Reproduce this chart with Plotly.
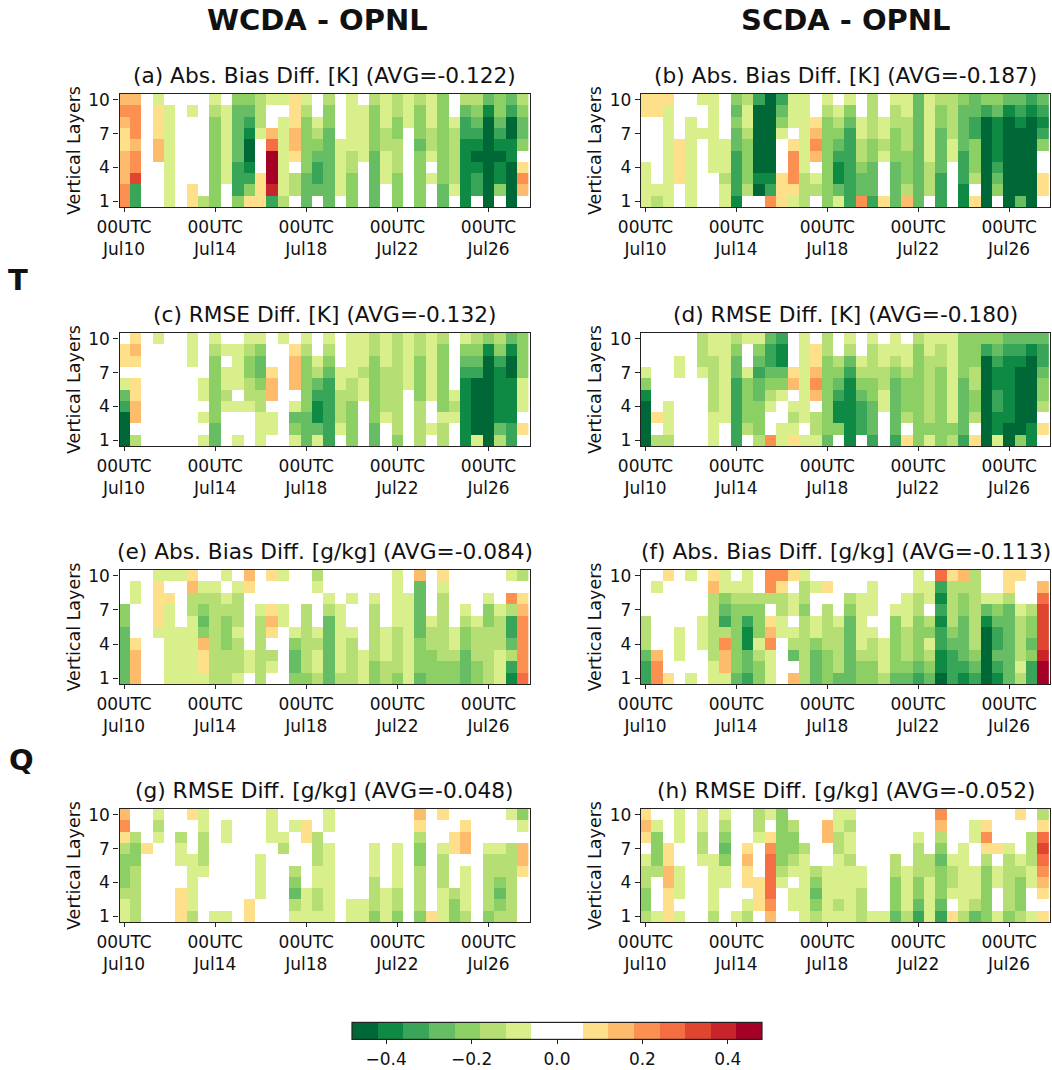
import plotly.graph_objects as go

# Values are colour-class levels: 0 = white band,
# +-k = k-th class away from the white band (each class is 0.06 wide).
# Rows run from layer 10 (first) to layer 1 (last); 36 twelve-hourly columns.
A_WCDA_T_BIAS = [
[2,2,0,-1,0,0,0,0,-1,0,-3,-3,-2,-1,-1,1,-1,0,-2,0,-1,0,-2,-1,-2,-1,-2,-1,-3,0,-2,-2,-4,-3,-4,-2],
[3,3,0,1,-1,0,-1,0,-2,-1,-4,-4,-2,0,0,1,-2,0,-3,0,-1,-1,-3,-1,-2,-1,-3,-1,-3,0,-4,-3,-6,-3,-5,-3],
[2,3,0,1,-1,0,0,0,-3,-1,-4,-5,-2,0,-1,1,-3,-1,-3,0,-1,-1,-3,-1,-3,-1,-3,-1,-3,-1,-5,-4,-7,-4,-7,-4],
[1,3,0,1,-1,0,0,0,-3,-1,-4,-6,-1,2,-1,2,-3,-2,-4,0,-1,-1,-3,-2,-3,0,-3,-2,-3,-2,-5,-5,-7,-5,-7,-4],
[1,2,0,2,-1,0,0,0,-3,-1,-4,-7,0,4,-1,2,-3,-3,-4,-1,-1,-1,-3,-2,-2,0,-4,-2,-3,-2,-6,-6,-7,-6,-6,-3],
[2,3,0,2,-1,0,0,0,-3,-1,-4,-7,0,7,-1,1,-3,-4,-4,-1,-2,-1,-4,-1,-2,0,-3,-1,-3,-2,-6,-7,-7,-7,-6,0],
[2,3,0,0,-1,0,0,0,-3,-1,-5,-6,0,7,-1,0,-3,-5,-4,-1,-2,0,-4,-1,-2,0,-3,0,-3,-2,-6,-6,-7,-6,-7,1],
[2,5,0,0,-1,0,0,0,-3,-1,-5,-5,1,7,-1,-2,-4,-5,-4,-1,-3,0,-4,-1,-3,0,-3,-1,-3,-2,-6,-5,-7,-6,-7,3],
[3,-5,0,0,-1,0,1,0,-3,0,-5,-3,1,6,-1,-2,-4,-4,-4,-1,-3,0,-4,0,-3,0,-3,0,-4,-1,-6,-5,-7,-3,-7,2],
[3,-5,0,0,-1,0,1,-2,-3,0,-3,1,1,-5,-2,0,-4,0,-4,0,-3,0,-4,0,-3,0,-3,0,-4,0,-6,0,-7,0,-7,0],
]
B_SCDA_T_BIAS = [
[1,1,1,0,0,-1,-1,0,-3,-2,-5,-7,-5,-1,-1,0,-1,0,-1,0,-2,0,-1,-1,-4,-1,-2,-2,-3,-4,-3,-3,-4,-4,-5,-4],
[1,1,-1,0,0,0,-1,0,-4,-1,-7,-7,-4,-1,-1,0,-2,-1,-3,0,-2,0,-2,-1,-4,-1,-3,-2,-4,-4,-5,-4,-6,-5,-6,-5],
[0,0,-1,0,-1,0,-1,0,-3,-1,-7,-7,-3,-1,-1,1,-3,-2,-4,-1,-2,-1,-2,-2,-4,-1,-3,-2,-4,-5,-7,-6,-7,-6,-7,-6],
[0,0,-1,0,-1,-1,-1,0,-4,-2,-7,-7,-1,0,-1,2,-3,-3,-5,-1,-2,-1,-3,-2,-4,-1,-4,-2,-4,-5,-7,-6,-7,-7,-7,-5],
[0,0,-1,1,-1,0,-1,-1,-4,-3,-7,-7,0,1,-1,3,-3,-4,-5,-2,-3,-2,-3,-2,-4,-1,-4,-1,-4,-3,-7,-6,-7,-7,-7,-3],
[0,0,-1,1,-1,0,-1,-1,-5,-3,-7,-7,0,3,-1,2,-3,-5,-5,-2,-3,-1,-3,-3,-4,-1,-4,-1,-5,-3,-7,-6,-7,-7,-7,0],
[-1,0,-1,1,-1,0,-1,-1,-5,-3,-7,-7,0,3,-1,0,-3,-6,-5,-3,-4,0,-4,-3,-4,-2,-4,0,-5,-3,-7,-5,-7,-7,-7,0],
[-1,0,-1,1,-1,0,0,-2,-5,-3,-6,-6,1,3,-2,-1,-3,-6,-5,-4,-4,0,-4,-3,-4,-2,-5,0,-5,-2,-7,-4,-7,-7,-7,1],
[-1,-1,-1,0,-1,0,0,-1,-5,-2,-7,-5,1,1,-2,-2,-3,-4,-5,-4,-4,0,-4,-2,-4,-2,-5,0,-6,0,-7,-3,-7,-7,-7,1],
[-1,-2,-1,0,-1,0,0,-1,-6,0,0,3,1,-1,-2,0,-3,-1,-5,3,-5,1,-4,2,-4,0,-5,0,-6,1,-7,0,-7,-4,-7,0],
]
C_WCDA_T_RMSE = [
[0,1,0,-1,0,0,-1,0,-1,0,0,-1,-1,0,-1,0,-1,0,-1,0,-1,-1,-2,-1,-2,-1,-2,-1,-2,0,-1,-2,-3,-2,-4,-3],
[1,2,0,0,0,0,-1,0,-2,-1,-1,-2,-3,0,0,1,-2,0,-2,0,-1,-1,-2,-1,-2,-1,-2,-1,-3,0,-3,-3,-6,-3,-6,-3],
[1,1,0,0,0,0,-1,0,-3,0,-1,-3,-4,0,0,2,-3,-1,-3,0,-1,-1,-3,-1,-2,-1,-3,-1,-3,0,-4,-4,-7,-5,-7,-3],
[0,0,0,0,0,0,0,0,-3,-1,-1,-3,-4,1,0,2,-3,-2,-4,-1,-1,-2,-3,-2,-2,-1,-3,-1,-3,0,-5,-5,-7,-6,-7,-3],
[-1,1,0,0,0,0,0,-1,-3,-1,-1,-2,-3,2,0,2,-3,-4,-5,-1,-2,-1,-3,-2,-2,-1,-3,-1,-3,0,-6,-7,-7,-6,-6,-1],
[-4,1,0,0,0,0,0,-1,-3,-2,0,-2,-2,2,0,0,-3,-5,-5,-2,-2,-1,-3,-2,-2,0,-3,-1,-3,-1,-6,-7,-7,-6,-6,-1],
[-5,2,0,0,0,0,0,0,-3,-1,-1,-1,-2,0,0,-1,-3,-6,-5,-2,-3,0,-3,-2,-2,0,-2,0,-3,-2,-6,-7,-7,-6,-6,-1],
[-7,2,0,0,0,0,0,-1,-3,0,0,0,-1,-1,0,-4,-4,-6,-5,-2,-3,0,-3,-1,-2,0,-2,0,-1,-1,-6,-7,-7,-6,-6,0],
[-7,0,0,0,0,0,0,0,-4,0,0,0,-1,-1,0,-3,-4,-4,-5,-1,-3,0,-4,0,-2,0,-2,-1,-2,0,-6,-7,-7,-4,-5,1],
[-7,-2,0,0,0,0,0,-1,-4,0,-1,0,-1,0,0,-1,-4,-1,-5,0,-3,0,-4,0,-3,0,-2,0,-2,0,-6,-1,-7,-2,-5,0],
]
D_SCDA_T_RMSE = [
[0,0,0,0,0,-2,-1,-1,-2,-1,-1,-4,-5,0,-1,0,-2,0,-1,0,-1,0,-1,0,-2,-1,-1,-1,-3,-3,-3,-3,-4,-4,-4,-4],
[0,0,0,0,0,-2,-1,-1,-3,0,-3,-5,-6,0,-1,1,-2,0,-2,0,-2,-1,-1,-1,-3,-1,-2,-1,-3,-3,-5,-4,-5,-5,-6,-5],
[0,0,0,-1,0,-2,-2,-1,-4,0,-4,-5,-6,0,-1,1,-3,-2,-4,-1,-2,-1,-2,-1,-3,-2,-2,-1,-3,-3,-7,-5,-6,-6,-7,-5],
[-1,0,0,-1,0,-1,-2,-1,-4,-1,-5,-4,-4,1,-1,2,-3,-3,-5,-2,-2,-2,-3,-2,-3,-2,-3,-1,-3,-2,-7,-6,-6,-7,-7,-4],
[-3,0,0,0,0,0,-2,-1,-5,-3,-4,-3,-3,2,-1,3,-3,-4,-6,-3,-3,-2,-4,-3,-3,-2,-3,-1,-4,-2,-7,-6,-6,-7,-7,-3],
[-6,0,0,0,0,0,-2,-1,-5,-3,-4,-2,-1,0,-1,2,-3,-5,-6,-4,-3,-1,-4,-3,-3,-2,-3,-1,-4,-3,-7,-5,-6,-7,-7,-3],
[-7,0,-1,0,0,0,-2,-1,-5,-3,-3,-1,0,-1,-1,0,-3,-6,-6,-5,-4,-1,-4,-3,-3,-2,-3,-1,-4,-3,-7,-5,-6,-7,-7,-2],
[-7,1,-1,0,0,0,-1,-1,-5,-3,-3,0,0,-2,-1,-2,-3,-6,-6,-5,-4,0,-4,-2,-3,-2,-3,-1,-4,-2,-7,-6,-6,-7,-7,0],
[-7,0,-1,0,0,0,-1,0,-5,-2,-3,0,-1,-1,0,-2,-3,-3,-6,-5,-4,0,-4,0,-3,-3,-3,-3,-4,0,-7,-6,-7,-7,-6,1],
[-7,-2,-2,0,0,0,-1,0,-5,0,-2,3,-1,1,-1,-1,-4,0,-6,0,-5,0,-5,1,-3,-1,-3,-2,-5,1,-7,-1,-7,-3,-6,0],
]
E_WCDA_Q_BIAS = [
[0,0,0,-1,-1,-1,1,0,0,-1,0,2,0,1,-1,0,0,-2,0,0,0,0,0,0,-1,0,2,0,1,0,0,0,0,0,-1,-2],
[0,-1,0,1,0,0,2,-1,-1,0,-1,1,0,0,0,0,0,-1,0,0,0,0,0,0,-1,0,-4,0,-1,0,0,0,0,0,0,0],
[0,-1,0,1,1,0,-2,-2,-2,-1,-2,0,0,0,0,0,0,0,-1,0,-1,0,-1,0,-1,-1,-4,0,-2,0,0,0,-1,0,3,1],
[-3,0,0,1,-1,0,-2,-3,-2,-2,-2,0,-1,1,-1,0,-2,0,-2,-1,0,0,-2,0,-1,-1,-4,0,-2,0,-1,0,-3,-1,-2,2],
[-3,0,0,1,-1,0,-1,-4,-2,-3,-2,0,-2,2,-1,0,-2,0,-4,-1,0,0,-2,0,-1,-1,-4,-1,-2,0,-2,-1,-3,-2,-5,3],
[-4,0,0,-1,-1,-1,-1,-3,-2,-3,-1,0,-2,1,0,-1,-2,-1,-4,-1,-1,0,-2,-1,-2,-1,-4,-2,-2,-1,-3,-2,-2,-2,-5,3],
[-4,1,0,0,-1,-1,-1,2,-2,-3,-2,0,-2,0,0,-3,-2,-2,-4,-1,-2,0,-2,-1,-2,-1,-3,-2,-2,-1,-3,-2,-2,-2,-4,3],
[-4,2,0,0,-1,-1,-1,1,-2,-2,-2,-1,-2,-2,0,-4,-2,-1,-4,-1,-2,-1,-2,-1,-2,-1,-3,-3,-2,-2,-4,-2,-2,-1,-2,3],
[-4,2,0,0,-1,-1,-1,1,-2,-2,-2,-1,-2,-1,0,-4,-2,-1,-4,-1,-2,-1,-3,-2,-2,-1,-3,-3,-3,-3,-4,-3,-2,-1,-5,3],
[-4,2,0,0,-1,-1,-1,-1,-2,-2,-1,0,-2,0,0,-3,-3,-2,-4,-2,-2,-1,-3,-2,-3,-1,-4,-3,-3,-3,-4,-3,-2,-1,-6,4],
]
F_SCDA_Q_BIAS = [
[0,0,1,0,-1,0,1,-1,0,-1,0,3,3,1,-1,0,0,0,0,0,0,0,0,0,-1,0,4,1,2,-2,0,0,1,1,0,0],
[0,-1,0,0,0,0,2,-1,-1,-1,0,3,1,0,-2,-1,1,0,0,0,-1,0,0,0,-1,-1,-5,-2,-2,-2,0,0,1,0,0,2],
[0,0,0,0,0,0,-2,-3,-2,-2,-2,-2,-2,-1,-2,0,0,0,-2,-1,-1,0,0,-1,-2,-1,-6,-2,-3,-2,-1,-1,-2,0,0,4],
[0,0,0,0,0,0,-2,-4,-3,-3,-3,0,-2,-1,-3,0,-2,0,-3,-1,-1,0,-1,-1,-2,0,-5,-2,-3,-2,-4,-3,-4,-1,-2,5],
[-2,0,0,0,0,-1,-2,-5,-3,-5,-3,1,-1,0,-2,-1,-2,-1,-4,-1,0,0,-3,-1,-3,-2,-6,-2,-4,-2,-6,-4,-4,-2,-3,5],
[-2,0,0,-1,0,-1,-2,-2,-3,-6,-3,2,-1,-1,-2,-1,-2,-2,-4,-1,-1,0,-3,-2,-3,-3,-5,-3,-4,-2,-7,-5,-4,-2,-3,5],
[-2,0,0,-1,0,-1,-2,3,-3,-6,-1,3,0,-2,-2,-3,-2,-2,-4,-1,-2,-1,-3,-2,-3,-1,-5,-4,-4,-2,-7,-5,-4,-2,-4,5],
[-4,2,0,-1,0,0,-2,2,-3,-4,-2,-1,0,-4,-2,-4,-3,-2,-4,-2,-2,-1,-3,-2,-3,-2,-6,-5,-4,-3,-7,-4,-4,-2,-3,6],
[-5,3,0,0,0,0,-1,2,-3,-4,-3,-1,0,0,-2,-4,-3,-2,-4,-3,-3,-1,-3,-3,-4,-3,-6,-5,-5,-4,-7,-5,-4,-1,-5,7],
[-5,3,1,0,-1,0,-1,-1,-4,-5,-3,-1,0,2,-2,-4,-3,-4,-4,-3,-3,-2,-4,-4,-5,-4,-7,-5,-6,-5,-7,-6,-4,-2,-5,7],
]
G_WCDA_Q_RMSE = [
[2,0,0,-1,0,0,1,-1,0,0,0,0,0,-1,0,0,0,0,-1,0,0,0,0,0,0,0,2,0,1,0,0,0,0,0,-1,-3],
[3,0,0,-2,0,0,0,-1,0,-1,0,0,0,-1,0,-1,1,0,-1,0,0,0,0,0,0,0,1,0,0,0,1,0,0,0,0,-1],
[1,-2,0,-1,0,-2,0,-2,0,-1,0,0,0,-1,-1,0,1,-2,0,0,0,0,0,0,0,0,-2,0,0,1,2,0,0,0,0,0],
[-2,-3,1,0,0,-1,0,-2,0,0,0,0,0,0,-2,0,0,-2,-1,0,0,0,-1,0,-1,0,-3,0,-1,1,2,0,-1,-1,-2,2],
[-3,-3,0,0,0,-1,-1,-2,0,0,0,0,-1,0,0,0,0,-2,-1,0,0,0,-1,0,-1,0,-3,0,-2,0,0,0,-2,-2,-2,2],
[-3,-2,0,0,0,0,-1,-1,0,0,0,0,-1,0,0,-2,0,-1,-1,0,0,0,-1,0,-1,0,-2,0,-2,0,-1,0,-2,-2,-2,1],
[-3,-2,0,0,0,0,-1,0,0,0,0,0,-1,0,0,-3,0,-1,-1,0,0,0,-2,0,-1,0,-2,0,-2,0,-1,0,-2,-3,-2,0],
[-2,-2,0,0,0,1,-1,0,0,0,0,0,-1,0,0,-4,-1,-2,-1,0,0,0,-2,-1,-2,0,-2,0,-1,-2,-1,0,-2,-4,-2,0],
[-1,-2,0,0,0,1,-1,0,0,0,0,1,0,0,0,-2,-1,-2,-1,0,-1,-1,-2,-1,-2,0,-2,0,-1,-3,-1,0,-2,-3,-2,0],
[-1,-2,0,0,0,1,-2,0,-1,-1,0,1,0,0,0,-1,-1,-1,-1,0,-1,-1,-3,-1,-3,0,-3,1,-1,-3,-2,0,-3,-2,-2,0],
]
H_SCDA_Q_RMSE = [
[1,0,0,-1,0,-1,0,-1,0,0,-2,-1,-3,0,0,0,0,-1,-1,0,0,0,0,0,0,0,3,0,0,0,0,0,0,1,0,-2],
[2,-1,0,-1,0,-1,0,-2,0,0,-2,0,-3,-2,0,0,2,-1,-2,0,0,0,0,0,0,0,2,0,0,-1,1,0,0,0,0,1],
[1,-3,0,-1,0,-2,0,-3,0,0,-1,1,-3,-3,0,0,2,-2,-1,0,0,0,0,0,-1,0,-2,0,0,-1,3,0,0,0,-2,4],
[0,-3,1,0,0,-2,0,-4,0,1,0,3,-3,-3,-2,0,0,-2,-1,0,0,0,0,0,-2,0,-3,0,-1,0,1,1,-1,0,-2,5],
[-1,-3,1,0,0,-1,-1,-3,0,2,0,4,-3,-2,-1,0,0,-1,-2,0,0,0,-2,0,-2,-2,-4,-1,-1,0,-2,0,-2,-1,-2,4],
[-2,-2,2,-1,0,0,-1,-1,0,1,0,4,-2,-1,-1,-2,-1,-1,-1,-1,0,0,-2,-1,-2,-2,-3,-2,-1,-1,-3,-1,-2,-2,-1,3],
[-2,0,2,-1,0,0,-1,-1,0,1,1,4,-1,0,-1,-3,-1,-1,-1,-1,0,0,-3,-1,-3,-1,-3,-2,-1,-1,-3,-1,-2,-3,-1,2],
[-3,0,1,-1,0,0,-1,0,0,0,1,4,0,-1,-1,-4,-1,-1,-1,-2,0,0,-3,-1,-3,-1,-3,-1,-1,-1,-3,0,-2,-3,0,1],
[-3,0,1,0,0,0,-1,0,0,-1,1,3,0,-1,-1,-3,-1,-2,-1,-2,0,0,-3,-1,-4,-1,-4,0,-1,-2,-3,0,-2,-3,0,0],
[-2,-1,1,-1,0,0,-2,0,-1,-2,0,2,0,0,-1,-2,-1,-1,-1,-2,-1,-1,-4,-2,-5,-1,-5,1,-2,-4,-3,-1,-3,-2,-1,1],
]

PANELS = [A_WCDA_T_BIAS, B_SCDA_T_BIAS, C_WCDA_T_RMSE, D_SCDA_T_RMSE,
          E_WCDA_Q_BIAS, F_SCDA_Q_BIAS, G_WCDA_Q_RMSE, H_SCDA_Q_RMSE]
TITLES = ["(a) Abs. Bias Diff. [K] (AVG=-0.122)", "(b) Abs. Bias Diff. [K] (AVG=-0.187)",
          "(c) RMSE Diff. [K] (AVG=-0.132)", "(d) RMSE Diff. [K] (AVG=-0.180)",
          "(e) Abs. Bias Diff. [g/kg] (AVG=-0.084)", "(f) Abs. Bias Diff. [g/kg] (AVG=-0.113)",
          "(g) RMSE Diff. [g/kg] (AVG=-0.048)", "(h) RMSE Diff. [g/kg] (AVG=-0.052)"]
LAYERS = [10, 9, 8, 7, 6, 5, 4, 3, 2, 1]
COLUMNS = list(range(36))
DATE_TICKS = [0, 8, 16, 24, 32]
DATE_LABELS = ["00UTC<br>Jul10", "00UTC<br>Jul14", "00UTC<br>Jul18", "00UTC<br>Jul22", "00UTC<br>Jul26"]
LAYER_TICKS = [1, 4, 7, 10]
CLASS_WIDTH = 0.06
GREENS = ["#006837", "#0f8a44", "#39a558", "#66bd63", "#8ccf64", "#b5df75", "#d9ef8b"]
WARMS = ["#fee08b", "#fdbb6c", "#fb9050", "#f46d43", "#e04530", "#c9242b", "#a50026"]

W, H = 1052, 1070
FONT = "DejaVu Sans"
TICK_SIZE = 17
colors = GREENS + ["#ffffff", "#ffffff"] + WARMS
n = len(colors)
scale = []
for i, c in enumerate(colors):
    scale += [[i / n, c], [(i + 1) / n, c]]

def to_value(level):
    if level == 0:
        return 0.0
    return (abs(level) + 0.5) * CLASS_WIDTH * (1 if level > 0 else -1)

COL_X = [(119.5, 529.5), (641, 1050)]
ROW_Y = [(94, 207), (333, 446), (570, 684), (809, 922)]

fig = go.Figure()
ann = []
for k, rows in enumerate(PANELS):
    for r in rows:
        assert len(r) == 36, (k, r)
    col, row = k % 2, k // 2
    ax = "" if k == 0 else str(k + 1)
    z = [[to_value(v) for v in r] for r in rows]
    fig.add_trace(go.Heatmap(x=COLUMNS, y=LAYERS, z=z, coloraxis="coloraxis",
                             xaxis="x" + ax, yaxis="y" + ax))
    x0, x1 = COL_X[col]
    y0, y1 = ROW_Y[row]
    fig.layout["xaxis" + ax] = dict(
        domain=[x0 / W, x1 / W], range=[-0.4, 35.6], anchor="y" + ax, automargin=False,
        tickmode="array", tickvals=DATE_TICKS, ticktext=DATE_LABELS,
        ticks="outside", ticklen=4, tickwidth=1.2, tickcolor="#222",
        showline=True, mirror=True, linecolor="#222", linewidth=1.4, showgrid=False, zeroline=False,
        tickfont=dict(family=FONT, size=TICK_SIZE, color="#111"))
    fig.layout["yaxis" + ax] = dict(
        domain=[1 - y1 / H, 1 - y0 / H], range=[0.5, 10.5], anchor="x" + ax, automargin=False,
        tickmode="array", tickvals=LAYER_TICKS,
        ticks="outside", ticklen=5, tickwidth=1.2, tickcolor="#222",
        showline=True, mirror=True, linecolor="#222", linewidth=1.4, showgrid=False, zeroline=False,
        tickfont=dict(family=FONT, size=TICK_SIZE, color="#111"),
        title=dict(text="Vertical Layers", standoff=3,
                   font=dict(family=FONT, size=17.5, color="#111")))
    ann.append(dict(text=TITLES[k], x=(x0 + x1) / 2 / W, y=1 - (y0 - 4) / H, xref="paper", yref="paper",
                    xanchor="center", yanchor="bottom", showarrow=False,
                    font=dict(family=FONT, size=21.7, color="#111")))

for text, px, py, size in [("WCDA - OPNL", 317, 20, 29), ("SCDA - OPNL", 846, 20, 29),
                           ("T", 18, 280, 29), ("Q", 21, 760, 29)]:
    ann.append(dict(text="<b>%s</b>" % text, x=px / W, y=1 - py / H, xref="paper", yref="paper",
                    xanchor="center", yanchor="middle", showarrow=False,
                    font=dict(family=FONT, size=size, color="#111")))

fig.update_layout(
    width=W, height=H, autosize=False, margin=dict(l=0, r=0, t=0, b=0, autoexpand=False),
    paper_bgcolor="white", plot_bgcolor="white", showlegend=False, annotations=ann,
    coloraxis=dict(
        cmin=-8 * CLASS_WIDTH, cmax=8 * CLASS_WIDTH, colorscale=scale,
        colorbar=dict(orientation="h", x=557 / W, xanchor="center", y=0, yanchor="bottom",
                      len=410, lenmode="pixels", thickness=17, thicknessmode="pixels",
                      xpad=0, ypad=0, outlinecolor="#222", outlinewidth=1.2,
                      tickmode="array", tickvals=[-0.4, -0.2, 0, 0.2, 0.4], tickformat=".1f",
                      ticks="outside", ticklen=5, tickcolor="#222",
                      tickfont=dict(family=FONT, size=TICK_SIZE, color="#111"))))

fig.write_html("out.html", config={"displayModeBar": False},
               post_script="document.body.style.margin='0';document.body.style.overflow='hidden';")
